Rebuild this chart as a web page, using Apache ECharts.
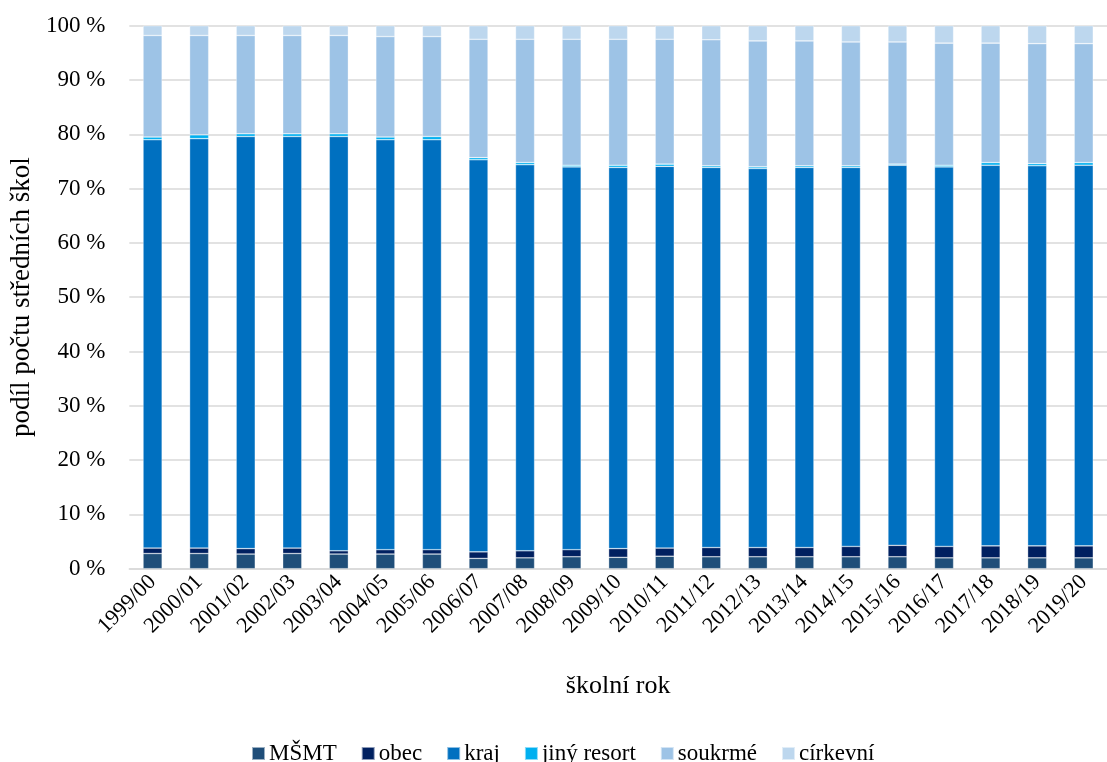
<!DOCTYPE html>
<html>
<head>
<meta charset="utf-8">
<script src="https://cdn.jsdelivr.net/npm/echarts@6/dist/echarts.min.js"></script>
<style>
html,body{margin:0;padding:0;background:#fff;}
#chart{width:1107px;height:762px;}
</style>
</head>
<body>
<div id="chart"></div>
<script>
const categories = ['1999/00','2000/01','2001/02','2002/03','2003/04','2004/05','2005/06','2006/07','2007/08','2008/09','2009/10','2010/11','2011/12','2012/13','2013/14','2014/15','2015/16','2016/17','2017/18','2018/19','2019/20'];
const msmt = [2.8,2.8,2.7,2.8,2.7,2.7,2.7,1.9,2.0,2.2,2.1,2.3,2.2,2.2,2.2,2.2,2.2,2.0,2.0,2.0,2.0];
const obec = [1.0,1.0,1.0,1.0,0.6,0.8,0.8,1.2,1.3,1.3,1.6,1.5,1.7,1.7,1.7,1.9,2.1,2.1,2.2,2.2,2.2];
const kraj = [75.2,75.4,75.9,75.8,76.3,75.5,75.5,72.2,71.1,70.5,70.2,70.3,70.0,69.8,70.0,69.8,70.0,69.9,70.1,70.0,70.1];
const jinyResort = [0.5,0.7,0.5,0.5,0.5,0.5,0.6,0.4,0.4,0.3,0.4,0.4,0.3,0.3,0.3,0.3,0.2,0.3,0.5,0.4,0.5];
const soukrome = [18.7,18.3,18.1,18.1,18.1,18.5,18.4,21.8,22.7,23.2,23.2,23.0,23.2,23.2,23.0,22.8,22.5,22.5,22.0,22.1,21.9];
const cirkevni = [1.8,1.8,1.8,1.8,1.8,2.0,2.0,2.5,2.5,2.5,2.5,2.5,2.6,2.8,2.8,3.0,3.0,3.2,3.2,3.3,3.3];
const yTicks = [0,10,20,30,40,50,60,70,80,90,100];

const seriesDefs = [
  ['MŠMT', msmt, '#1F4E79'],
  ['obec', obec, '#002060'],
  ['kraj', kraj, '#0070C0'],
  ['jiný resort', jinyResort, '#00B0F0'],
  ['soukrmé', soukrome, '#9DC3E6'],
  ['církevní', cirkevni, '#BDD7EE']
];

const font = '"Liberation Serif", "Times New Roman", serif';
const chart = echarts.init(document.getElementById('chart'));
chart.setOption({
  animation: false,
  textStyle: {fontFamily: font, color: '#000'},
  grid: {left: 127, right: -7, top: 25.7, bottom: 193.3, containLabel: false},
  legend: {
    top: 737,
    left: 246,
    itemWidth: 13,
    itemHeight: 13,
    itemGap: 24,
    icon: 'rect',
    textStyle: {fontFamily: font, fontSize: 23, color: '#000', padding: [0,0,0,-1]},
    data: seriesDefs.map(s => s[0])
  },
  xAxis: {
    type: 'category',
    data: categories,
    name: 'školní rok',
    nameLocation: 'middle',
    nameGap: 104,
    nameTextStyle: {fontFamily: font, fontSize: 26, color: '#000'},
    axisLine: {lineStyle: {color: '#D9D9D9', width: 1.5}},
    axisTick: {show: false},
    axisLabel: {rotate: 45, fontFamily: font, fontSize: 22, color: '#000', margin: 10, interval: 0}
  },
  yAxis: {
    type: 'value',
    min: 0,
    max: 100,
    interval: 10,
    name: 'podíl počtu středních škol',
    nameLocation: 'middle',
    nameGap: 85,
    nameTextStyle: {fontFamily: font, fontSize: 27, color: '#000'},
    axisLine: {show: false},
    axisTick: {show: false},
    splitLine: {lineStyle: {color: '#D9D9D9', width: 1.5}},
    axisLabel: {
      fontFamily: font, fontSize: 23, color: '#000', margin: 24,
      formatter: v => (yTicks.indexOf(v) >= 0 ? v + ' %' : '')
    }
  },
  series: seriesDefs.map(([name, data, color]) => ({
    name: name,
    type: 'bar',
    stack: 'total',
    data: data,
    barCategoryGap: '59%',
    itemStyle: {color: color, borderColor: 'rgba(255,255,255,0.55)', borderWidth: 0.6}
  }))
});
</script>
</body>
</html>
